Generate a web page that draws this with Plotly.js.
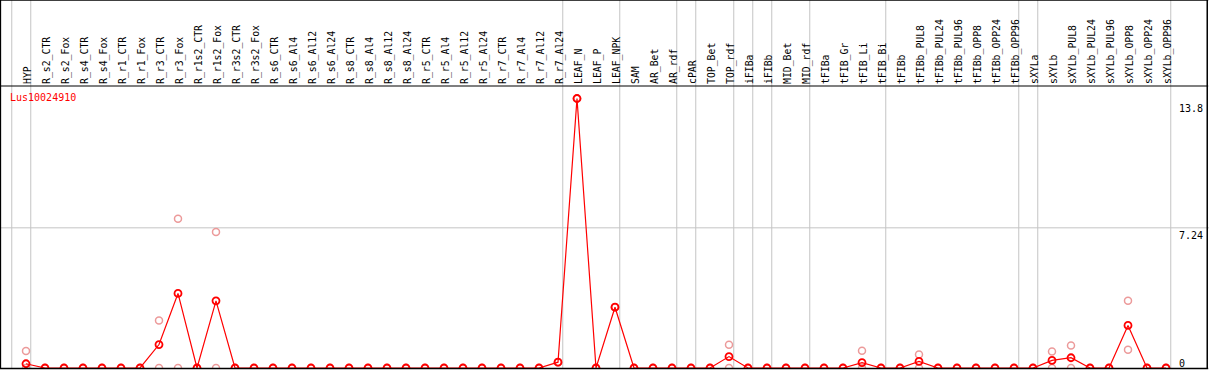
<!DOCTYPE html>
<html>
<head>
<meta charset="utf-8">
<script src="https://cdn.plot.ly/plotly-3.0.1.min.js"></script>
<style>html,body{margin:0;padding:0;background:#fff;}#chart{width:1209px;height:370px;}</style>
</head>
<body>
<div id="chart"></div>
<script>
const geneName = 'Lus10024910';
const categories = ['HYP','R_s2_CTR','R_s2_Fox','R_s4_CTR','R_s4_Fox','R_r1_CTR','R_r1_Fox','R_r3_CTR','R_r3_Fox',
  'R_r1s2_CTR','R_r1s2_Fox','R_r3s2_CTR','R_r3s2_Fox','R_s6_CTR','R_s6_Al4','R_s6_Al12','R_s6_Al24',
  'R_s8_CTR','R_s8_Al4','R_s8_Al12','R_s8_Al24','R_r5_CTR','R_r5_Al4','R_r5_Al12','R_r5_Al24',
  'R_r7_CTR','R_r7_Al4','R_r7_Al12','R_r7_Al24','LEAF_N','LEAF_P','LEAF_NPK','SAM','AR_Bet','AR_rdf',
  'cPAR','TOP_Bet','TOP_rdf','iFIBa','iFIBb','MID_Bet','MID_rdf','tFIBa','tFIB_Gr','tFIB_Li','tFIB_Bi',
  'tFIBb','tFIBb_PUL8','tFIBb_PUL24','tFIBb_PUL96','tFIBb_OPP8','tFIBb_OPP24','tFIBb_OPP96',
  'sXYLa','sXYLb','sXYLb_PUL8','sXYLb_PUL24','sXYLb_PUL96','sXYLb_OPP8','sXYLb_OPP24','sXYLb_OPP96'];
const meanVals = [0.22,0,0,0,0,0,0,1.21,3.85,0,3.47,0,0,0,0,0,0,0,0,0,0,0,0,0,0,0,0,0,0.30,
  13.92,0,3.14,0,0,0,0,0,0.59,0,0,0,0,0,0,0.28,0,0,0.34,0,0,0,0,0,0,0.39,0.53,0,0,2.20,0,0];
const rep1Vals = [0.88,0,0,0,0,0,0,2.45,7.71,0,7.03,0,0,0,0,0,0,0,0,0,0,0,0,0,0,0,0,0,0.30,
  13.92,0,3.14,0,0,0,0,0,1.20,0,0,0,0,0,0,0.89,0,0,0.70,0,0,0,0,0,0,0.85,1.16,0,0,3.47,0,0];
const rep2Vals = [0,0,0,0,0,0,0,0,0,0,0,0,0,0,0,0,0,0,0,0,0,0,0,0,0,0,0,0,0.30,
  13.92,0,3.14,0,0,0,0,0,0,0,0,0,0,0,0,0,0,0,0,0,0,0,0,0,0,0,0,0,0,0.94,0,0];
const yTickVals = [0, 7.24, 13.8];
const yTickText = ['0', '7.24', '13.8'];
const groupEnds = [-1, 0, 28, 31, 34, 35, 37, 38, 39, 41, 45, 52, 53, 60];

const idx = categories.map((c, i) => i);
const W = 1209, H = 370, ML = 1, MR = 2, MT = 86, MB = 2;
const plotW = W - ML - MR, plotH = H - MT - MB;
const pxPerCat = 19, firstPx = 26;
const x0 = -(firstPx - ML) / pxPerCat;
const x1 = x0 + plotW / pxPerCat;
const yTop = plotH / 19.36;
const topPaper = (H - MB) / plotH;

const mono = 'DejaVu Sans Mono, monospace';
const fadedColor = '#ec9a9a';

const traces = [
  {x: idx, y: rep1Vals, mode: 'markers', type: 'scatter', hoverinfo: 'skip',
   marker: {symbol: 'circle-open', size: 7, color: fadedColor, line: {width: 1.5, color: fadedColor}}},
  {x: idx, y: rep2Vals, mode: 'markers', type: 'scatter', hoverinfo: 'skip',
   marker: {symbol: 'circle-open', size: 7, color: fadedColor, line: {width: 1.5, color: fadedColor}}},
  {x: idx, y: meanVals, mode: 'lines+markers', type: 'scatter',
   line: {color: '#ff0000', width: 1.2},
   marker: {symbol: 'circle-open', size: 7, color: '#ff0000', line: {width: 1.8, color: '#ee0000'}}}
];

const shapes = [];
groupEnds.forEach(g => {
  shapes.push({type: 'line', xref: 'x', yref: 'paper', x0: g + 0.25, x1: g + 0.25, y0: 0, y1: topPaper,
    line: {color: '#c4c4c4', width: 1}, layer: 'below'});
});
shapes.push({type: 'line', xref: 'paper', yref: 'y', x0: -0.01, x1: 1.01, y0: yTickVals[1], y1: yTickVals[1],
  line: {color: '#c4c4c4', width: 1}, layer: 'below'});
const blk = {color: '#000', width: 1.5};
shapes.push({type: 'line', xref: 'paper', yref: 'paper', x0: -0.0005, x1: -0.0005, y0: 0, y1: topPaper, line: blk});
shapes.push({type: 'line', xref: 'paper', yref: 'paper', x0: 1.0002, x1: 1.0002, y0: 0, y1: topPaper, line: blk});
shapes.push({type: 'line', xref: 'paper', yref: 'paper', x0: -0.001, x1: 1.001, y0: topPaper, y1: topPaper, line: blk});
shapes.push({type: 'line', xref: 'paper', yref: 'paper', x0: -0.001, x1: 1.001, y0: 1, y1: 1, line: {color: '#000', width: 1.2}});
shapes.push({type: 'line', xref: 'paper', yref: 'paper', x0: -0.001, x1: 1.001, y0: -0.002, y1: -0.002, line: blk});

const annotations = [
  {xref: 'paper', yref: 'paper', x: (8 - ML) / plotW, y: (H - MB - 97) / plotH, xanchor: 'left', yanchor: 'middle',
   text: geneName, showarrow: false, font: {family: mono, size: 10, color: '#ff0000'}}
];
yTickVals.forEach((v, k) => {
  annotations.push({xref: 'paper', yref: 'y', x: (1177 - ML) / plotW, y: v, xanchor: 'left',
    yanchor: v === 0 ? 'bottom' : 'top', yshift: v === 0 ? -3 : 0, text: yTickText[k], showarrow: false,
    font: {family: mono, size: 10, color: '#000'}});
});

const layout = {
  width: W, height: H,
  margin: {l: ML, r: MR, t: MT, b: MB, pad: 0},
  paper_bgcolor: '#fff', plot_bgcolor: '#fff',
  showlegend: false,
  xaxis: {range: [x0, x1], side: 'top', tickmode: 'array', tickvals: idx, ticktext: categories,
    tickangle: -90, ticks: '', showgrid: false, zeroline: false, showline: false,
    ticklabelshift: 2, ticklabelstandoff: 1,
    tickfont: {family: mono, size: 9.8, color: '#000'}, fixedrange: true},
  yaxis: {range: [0, yTop], showgrid: false, zeroline: false, showline: false, showticklabels: false,
    ticks: '', fixedrange: true},
  shapes: shapes,
  annotations: annotations
};

Plotly.newPlot('chart', traces, layout, {displayModeBar: false, staticPlot: true});
</script>
</body>
</html>
